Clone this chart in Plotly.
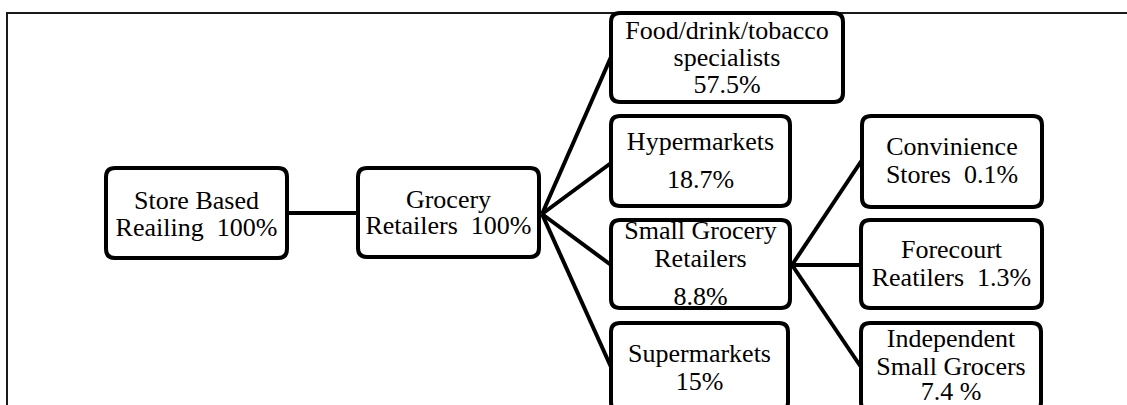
import plotly.graph_objects as go

# ---------------- data ----------------
node_names = ["Store Based Reailing", "Grocery Retailers", "Food/drink/tobacco specialists",
              "Hypermarkets", "Small Grocery Retailers", "Supermarkets",
              "Convinience Stores", "Forecourt Reatilers", "Independent Small Grocers"]
node_shares = ["100%", "100%", "57.5%", "18.7%", "8.8%", "15%", "0.1%", "1.3%", "7.4 %"]
node_parent = [None, 0, 1, 1, 1, 1, 4, 4, 4]
# text lines shown in each box (labels)
node_lines = [
    ["Store Based", "Reailing\u00a0 100%"],
    ["Grocery", "Retailers\u00a0 100%"],
    ["Food/drink/tobacco", "specialists", "57.5%"],
    ["Hypermarkets", "18.7%"],
    ["Small Grocery", "Retailers", "8.8%"],
    ["Supermarkets", "15%"],
    ["Convinience", "Stores\u00a0 0.1%"],
    ["Forecourt", "Reatilers\u00a0 1.3%"],
    ["Independent", "Small Grocers", "7.4 %"],
]

# ---------------- layout geometry (pixels) ----------------
W, H = 1127, 405
box_rect = [
    [106, 168, 287, 258],
    [358, 168, 539, 257],
    [611, 13, 843, 102],
    [611, 116, 790, 206],
    [611, 220, 790, 308],
    [611, 323, 788, 411],
    [862, 116, 1042, 207],
    [861, 220, 1042, 308],
    [861, 323, 1041, 411],
]
line_baselines = [
    [209, 236],
    [208, 234],
    [39, 66, 93],
    [150, 188],
    [239, 267, 305],
    [362, 390],
    [155, 183],
    [258, 286],
    [347, 375, 400],
]
# where the connector leaves the parent (fan point) and enters the child
fan_point = {0: (287, 213), 1: (542, 214), 4: (792, 265)}
entry_y = [None, 213, 57, 163, 265, 367, 160, 265, 367]

FS = 26
FONT = "Liberation Serif, Times New Roman, serif"
LW = 4
R = 9

fig = go.Figure()

# connectors
cx, cy = [], []
for i, p in enumerate(node_parent):
    if p is None:
        continue
    fx, fy = fan_point[p]
    cx += [fx, box_rect[i][0], None]
    cy += [fy, entry_y[i], None]
fig.add_trace(go.Scatter(x=cx, y=cy, mode="lines",
                         line=dict(color="black", width=LW),
                         hoverinfo="skip", showlegend=False))

# text
tx, ty, tt = [], [], []
for i, lines in enumerate(node_lines):
    x0, y0, x1, y1 = box_rect[i]
    for txt, b in zip(lines, line_baselines[i]):
        tx.append((x0 + x1) / 2)
        ty.append(b - 0.25 * FS)
        tt.append(txt)
fig.add_trace(go.Scatter(x=tx, y=ty, text=tt, mode="text", textposition="middle center",
                         textfont=dict(family=FONT, size=FS, color="black"),
                         hoverinfo="skip", showlegend=False))

# boxes (rounded rectangles)
shapes = []
for (x0, y0, x1, y1) in box_rect:
    path = (f"M {x0+R},{y0} L {x1-R},{y0} Q {x1},{y0} {x1},{y0+R} "
            f"L {x1},{y1-R} Q {x1},{y1} {x1-R},{y1} L {x0+R},{y1} "
            f"Q {x0},{y1} {x0},{y1-R} L {x0},{y0+R} Q {x0},{y0} {x0+R},{y0} Z")
    shapes.append(dict(type="path", path=path, xref="x", yref="y", layer="above",
                       line=dict(color="black", width=LW), fillcolor="rgba(0,0,0,0)"))

# frame lines
shapes.append(dict(type="path", path=f"M 7,{H+5} L 7,13 L {W+5},13", xref="x", yref="y",
                   layer="below", line=dict(color="#1a1a1a", width=2)))

fig.update_layout(
    width=W, height=H,
    margin=dict(l=0, r=0, t=0, b=0),
    paper_bgcolor="white", plot_bgcolor="white",
    xaxis=dict(range=[0, W], visible=False, fixedrange=True),
    yaxis=dict(range=[H, 0], visible=False, fixedrange=True),
    shapes=shapes,
    showlegend=False,
)

fig.write_html(
    "out.html",
    config={"displayModeBar": False, "staticPlot": True},
    post_script="document.body.style.margin='0';document.body.style.overflow='hidden';",
)
